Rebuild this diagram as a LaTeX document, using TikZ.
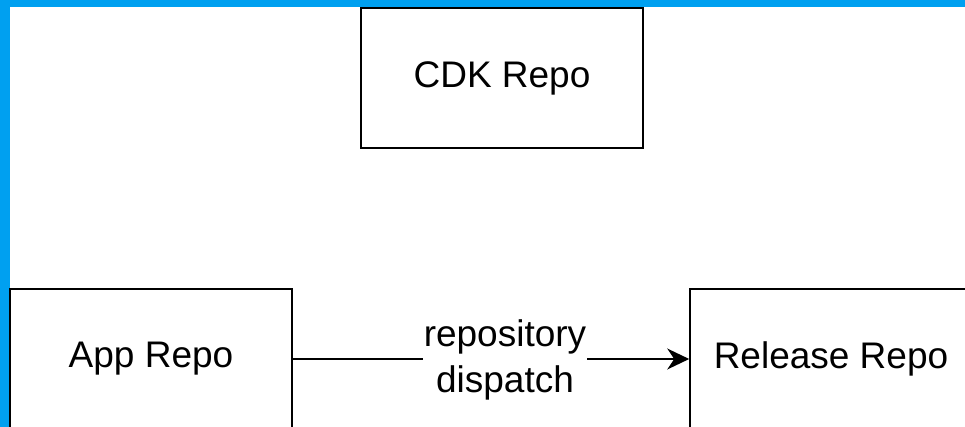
\documentclass[tikz,border=0pt]{standalone}
\usepackage{fontspec}
\setmainfont{Liberation Sans}
\usetikzlibrary{arrows.meta}
\definecolor{framblue}{RGB}{0,160,240}
\tikzset{
  repobox/.style={draw=black, line width=1.6pt, minimum width=282pt, minimum height=140pt,
    inner sep=0pt, font=\fontsize{37}{44}\selectfont, fill=white},
  flow/.style={draw=black, line width=1.6pt, -{Stealth[length=22pt,width=21pt,inset=7pt]}},
  flowlabel/.style={fill=white, inner sep=1pt, align=center, font=\fontsize{37}{46}\selectfont}
}
\begin{document}
\begin{tikzpicture}[x=1pt, y=-1pt]
  \useasboundingbox (0,0) rectangle (965,427);
  \clip (0,0) rectangle (965,427);
  \fill[white] (0,0) rectangle (965,427);
  % blue frame on the top and left edges
  \fill[framblue] (0,0) rectangle (965,7);
  \fill[framblue] (0,0) rectangle (9.5,427);

  \node[repobox] (cdk) at (502,78) {CDK Repo};
  \node[repobox] (app) at (151,359) {App Repo};
  \node[repobox] (rel) at (831,359) {Release Repo};

  \draw[flow] (app.east) -- (rel.west)
    node[flowlabel, midway, xshift=14pt, yshift=-1pt] {repository\\dispatch};
\end{tikzpicture}
\end{document}
